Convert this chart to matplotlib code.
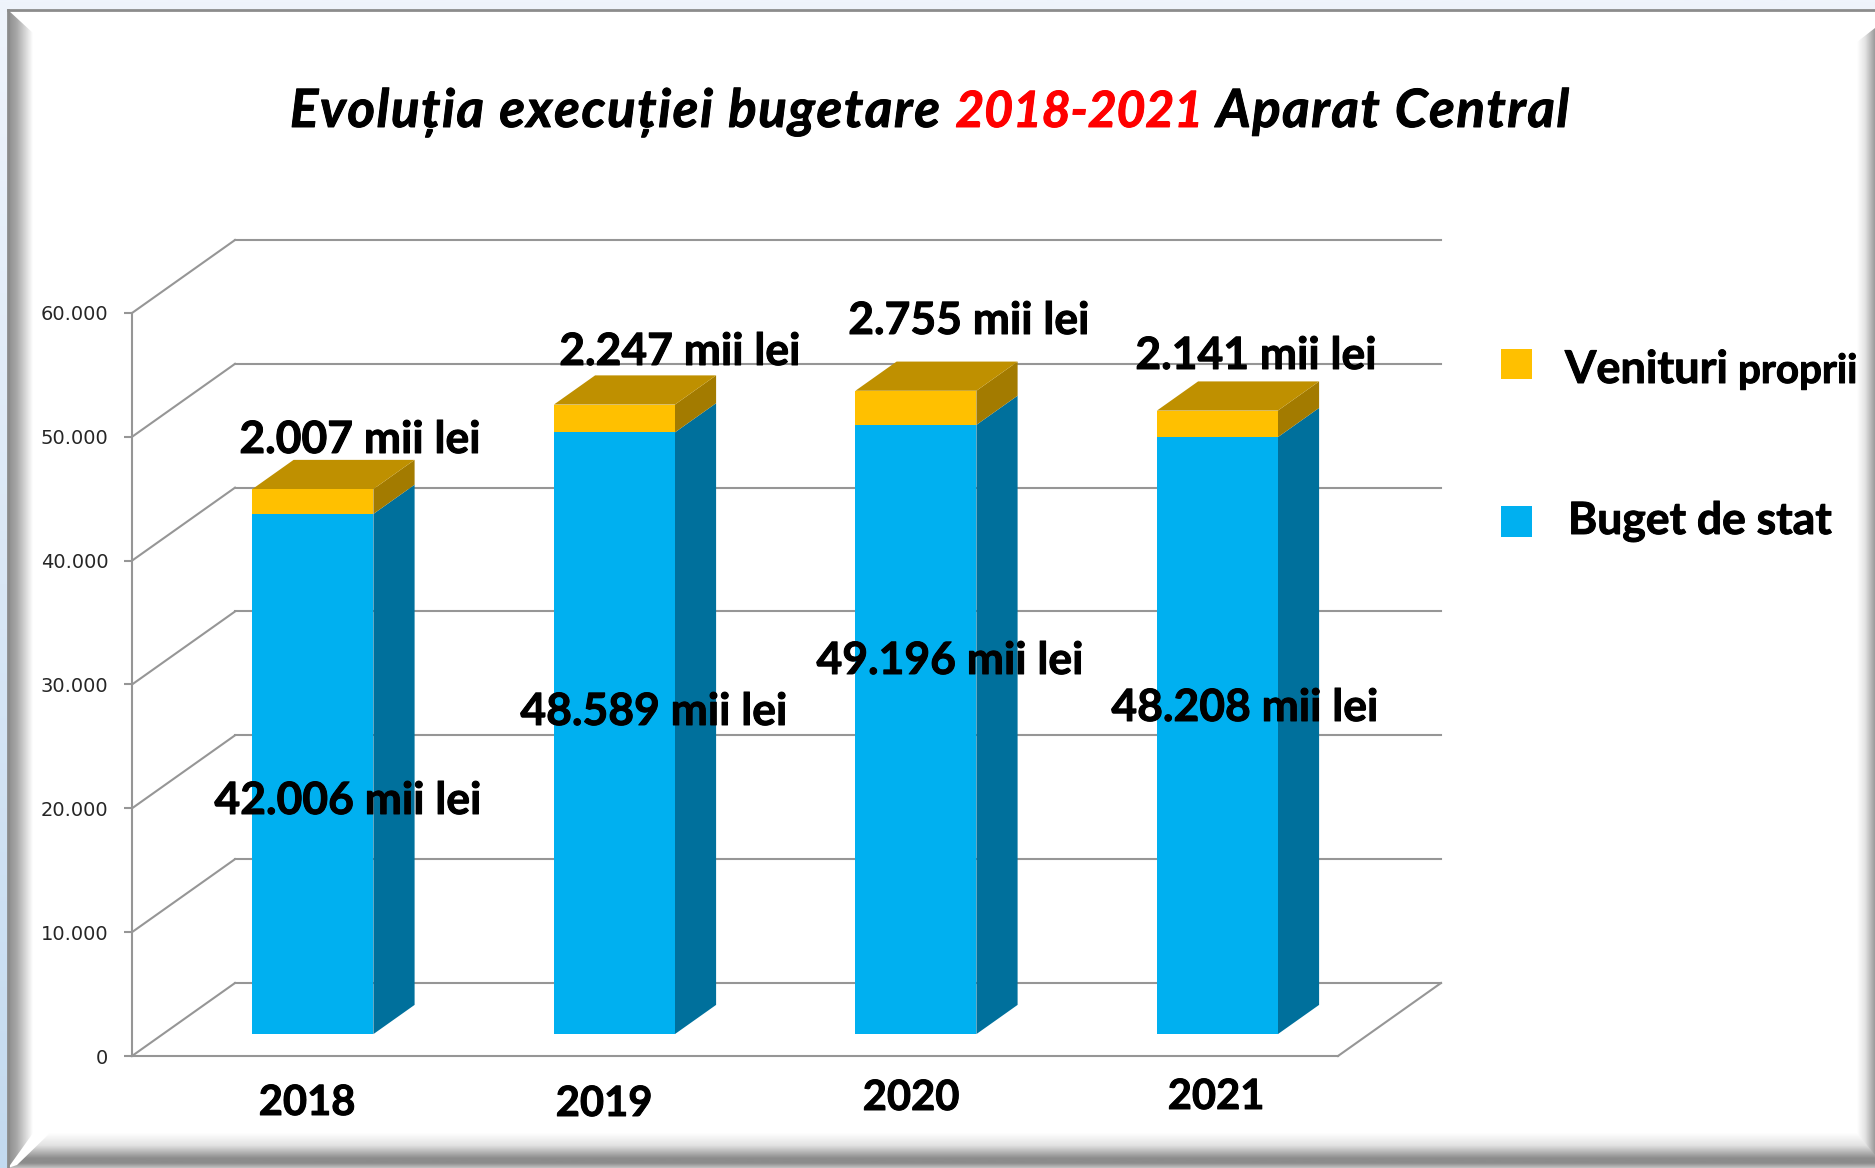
import matplotlib
matplotlib.use("Agg")
import matplotlib.pyplot as plt
import matplotlib.patheffects as pe
from matplotlib.patches import Polygon, Rectangle
import numpy as np

FONT = ["Lato", "Open Sans", "DejaVu Sans"]

# ── data ──────────────────────────────────────────────
years = ["2018", "2019", "2020", "2021"]
buget_stat = [42006, 48589, 49196, 48208]
venituri_proprii = [2007, 2247, 2755, 2141]
y_ticks = [0, 10000, 20000, 30000, 40000, 50000, 60000]
y_tick_labels = ["0", "10.000", "20.000", "30.000", "40.000", "50.000", "60.000"]
buget_labels = ["42.006 mii lei", "48.589 mii lei", "49.196 mii lei", "48.208 mii lei"]
venituri_labels = ["2.007 mii lei", "2.247 mii lei", "2.755 mii lei", "2.141 mii lei"]
title_parts = ["Evoluția execuției bugetare ", "2018-2021", " Aparat Central"]

# label positions in picture pixels (placed by hand in the original slide)
year_pos = [(307, 1103), (604, 1104), (911, 1098), (1216, 1097)]
buget_pos = [(348, 801), (654, 712), (950, 661), (1245, 708)]
venituri_pos = [(360, 440), (680, 352), (969, 321), (1256, 356)]

BLUE, BLUE_SIDE = "#00B0F0", "#00709C"
GOLD, GOLD_TOP, GOLD_SIDE = "#FFC000", "#BF9000", "#A37B00"
GRID = "#969696"

W, H = 1875, 1168
fig = plt.figure(figsize=(W / 100, H / 100), dpi=100)

# ── slide frame ───────────────────────────────────────
px = fig.add_axes([0, 0, 1, 1], zorder=0)
px.set_xlim(0, W)
px.set_ylim(H, 0)
px.axis("off")


def gradient(stops, extent, horizontal, clip, z=4):
    pos, cols = zip(*stops)
    rgb = np.array([matplotlib.colors.to_rgb(c) for c in cols])
    t = np.linspace(0, 1, 256)
    img = np.stack([np.interp(t, pos, rgb[:, k]) for k in range(3)], axis=-1)
    img = img[np.newaxis, :, :] if horizontal else img[:, np.newaxis, :]
    im = px.imshow(img, extent=extent, aspect="auto", origin="upper",
                   interpolation="bilinear", zorder=z)
    patch = Polygon(clip, closed=True, transform=px.transData, fc="none", ec="none")
    px.add_patch(patch)
    im.set_clip_path(patch)


# window background, visible only along the top and left edges
gradient([(0, "#EFF4FC"), (1, "#C3DAF0")], (0, W, H, 0), False,
         [(0, 0), (W, 0), (W, H), (0, H)], z=1)
px.add_patch(Polygon([(8, 10), (W, 10), (W, H), (8, H)], fc="white", ec="none", zorder=2))
px.plot([8, W], [10, 10], color="#8C8C8C", lw=2, zorder=3)
px.plot([8, 8], [10, H], color="#8C8C8C", lw=2, zorder=6)

gradient([(0, "#8C8C8C"), (0.35, "#A8A8A8"), (1, "#FFFFFF")], (8, 33, H, 0), True,
         [(8, 10), (33, 33), (33, 1133), (8, H)])
gradient([(0, "#FFFFFF"), (0.45, "#E4E4E4"), (1, "#9A9A9A")], (1857, W, H, 0), True,
         [(W, 28), (1857, 42), (1857, 1133), (W, 1158), (W, H)])
gradient([(0, "#FFFFFF"), (0.35, "#E2E2E2"), (0.72, "#8C8C8C"), (0.86, "#8C8C8C"), (1, "#C4C4C4")],
         (0, W, 1168, 1133), False,
         [(50, 1133), (1857, 1133), (W, 1155), (W, H), (8, H), (17, 1165)])

# ── chart axes: the front wall plane of the 3D box ────
ax = fig.add_axes([132 / W, (H - 1056) / H, 1206 / W, 743 / H], zorder=1)
ax.patch.set_alpha(0)
ax.set_xlim(0, len(years))
ax.set_ylim(0, 60000)
for s in ["top", "right"]:
    ax.spines[s].set_visible(False)
for s in ["left", "bottom"]:
    ax.spines[s].set_color(GRID)
    ax.spines[s].set_linewidth(1.5)
ax.set_xticks([])
ax.set_yticks(y_ticks)
ax.set_yticklabels(y_tick_labels, family="DejaVu Sans", fontsize=14, color="#262626")
ax.tick_params(axis="y", length=6, width=1.5, color=GRID, pad=11)

# depth of the box expressed in data units
DX = 103 / (1206 / len(years))
DY = 73 / (743 / 60000)

# walls and floor
for t in y_ticks:
    ax.plot([0, DX], [t, t + DY], color=GRID, lw=1.5, clip_on=False, zorder=1)
    ax.plot([DX, len(years) + DX], [t + DY, t + DY], color=GRID, lw=1.5, clip_on=False, zorder=1)
ax.plot([len(years), len(years) + DX], [0, DY], color=GRID, lw=1.5, clip_on=False, zorder=1)

# bars sit inside the depth: front face at f, back face at f + d
f, d = 0.30, 0.40
bw = 121 / (1206 / len(years))
x = np.arange(len(years)) + 0.5 + f * DX - 0.0025
base = f * DY


def side(x_right, y0, y1, color, z):
    ax.add_patch(Polygon([(x_right, y0), (x_right + d * DX, y0 + d * DY),
                          (x_right + d * DX, y1 + d * DY), (x_right, y1)],
                         fc=color, ec="none", clip_on=False, zorder=z))


for i in range(len(years)):
    b, v = buget_stat[i], venituri_proprii[i]
    r = x[i] + bw / 2
    l = x[i] - bw / 2
    side(r, base, base + b, BLUE_SIDE, 2)
    side(r, base + b, base + b + v, GOLD_SIDE, 2)
    top = base + b + v
    ax.add_patch(Polygon([(l, top), (r, top), (r + d * DX, top + d * DY), (l + d * DX, top + d * DY)],
                         fc=GOLD_TOP, ec="none", clip_on=False, zorder=2))

ax.bar(x, buget_stat, bw, bottom=base, color=BLUE, zorder=3, clip_on=False)
ax.bar(x, venituri_proprii, bw, bottom=np.array(buget_stat) + base, color=GOLD, zorder=3, clip_on=False)


# ── texts, in picture pixels ──────────────────────────
def label(xp, yp, s, size, ha="center", va="center", **kw):
    t = ax.text(xp, yp, s, transform=px.transData, family=FONT, fontsize=size,
                fontweight="bold", ha=ha, va=va, color=kw.pop("color", "black"),
                clip_on=False, zorder=6, **kw)
    # the original Calibri bold is heavier than Lato bold
    t.set_path_effects([pe.withStroke(linewidth=0.7, foreground=t.get_color())])
    return t


for (xp, yp), s in zip(year_pos, years):
    label(xp, yp, s, 30)
for (xp, yp), s in zip(buget_pos, buget_labels):
    label(xp, yp, s, 32)
for (xp, yp), s in zip(venituri_pos, venituri_labels):
    label(xp, yp, s, 32)

# title: letter by letter, the original is slightly tracked out; Lato digits run wide
renderer = fig.canvas.get_renderer()
cursor = 290.0
for s, col, size, track in zip(title_parts, ["black", "#FF0000", "black"],
                               [38, 36, 38], [1.65, -0.2, 1.55]):
    for ch in s:
        t = label(cursor, 127, ch, size, ha="left", va="baseline", color=col, style="italic")
        if ch == " ":
            cursor += 12 + track
        else:
            cursor += t.get_window_extent(renderer).width + track

# legend
px.add_patch(Rectangle((1501, 349), 31, 30, fc=GOLD, ec="none", zorder=5))
px.add_patch(Rectangle((1501, 506), 31, 31, fc=BLUE, ec="none", zorder=5))
label(1565, 383, "Venituri", 32.5, ha="left", va="baseline")
label(1738, 383, "proprii", 29, ha="left", va="baseline")
label(1568, 534, "Buget de stat", 32, ha="left", va="baseline")

fig.savefig("out.png", dpi=100)
